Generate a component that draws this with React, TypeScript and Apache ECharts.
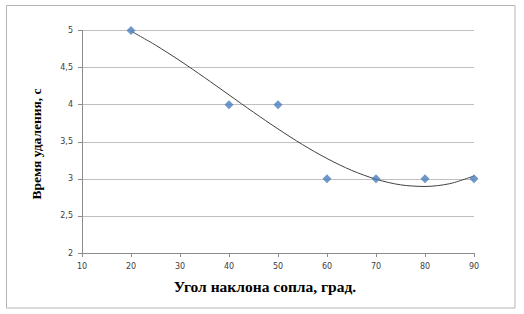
import React, { useEffect, useRef } from "react";
import * as echarts from "echarts";

const angles = [20, 40, 50, 60, 70, 80, 90];
const times = [5, 4, 4, 3, 3, 3, 3];
const trendX = [20, 25, 30, 35, 40, 45, 50, 55, 60, 65, 70, 75, 80, 85, 90];
const trendY = [4.992, 4.803, 4.592, 4.366, 4.132, 3.898, 3.673, 3.462, 3.274, 3.115, 2.995, 2.919, 2.897, 2.934, 3.039];
const xTitle = "Угол наклона сопла, град.";
const yTitle = "Время удаления, с";

export default function App() {
  const ref = useRef<HTMLDivElement>(null);
  useEffect(() => {
    const chart = echarts.init(ref.current!, null, { renderer: "svg" });
    chart.setOption({
      animation: false,
      backgroundColor: "#ffffff",
      grid: { left: 82, right: 50, top: 30.5, bottom: 61 },
      xAxis: {
        type: "value",
        min: 10,
        max: 90,
        interval: 10,
        axisLine: { show: true, lineStyle: { color: "#8c8c8c" } },
        axisTick: { show: true, length: 4, lineStyle: { color: "#8c8c8c" } },
        splitLine: { show: false },
        axisLabel: { color: "#404040", fontFamily: "DejaVu Sans", fontSize: 8, margin: 9 },
      },
      yAxis: {
        type: "value",
        min: 2,
        max: 5,
        interval: 0.5,
        axisLine: { show: true, lineStyle: { color: "#8c8c8c" } },
        axisTick: { show: true, length: 4, lineStyle: { color: "#8c8c8c" } },
        splitLine: { show: true, lineStyle: { color: "#c0c0c0", width: 1 } },
        axisLabel: {
          color: "#404040",
          fontFamily: "DejaVu Sans",
          fontSize: 8,
          margin: 9,
          formatter: (v: number) => String(v).replace(".", ","),
        },
      },
      series: [
        {
          type: "line",
          data: trendX.map((x, i) => [x, trendY[i]]),
          smooth: 0.3,
          showSymbol: false,
          lineStyle: { color: "#404040", width: 1 },
          z: 2,
        },
        {
          type: "scatter",
          data: angles.map((x, i) => [x, times[i]]),
          symbol: "diamond",
          symbolSize: 9,
          itemStyle: { color: "#4a7ebb" },
          z: 3,
        },
      ],
      graphic: [
        {
          type: "rect",
          shape: { x: 6.5, y: 5.5, width: 508.5, height: 302.5 },
          style: { fill: "none", stroke: "#b4b4b4", lineWidth: 1 },
          silent: true,
        },
        {
          type: "text",
          x: 265,
          y: 286,
          style: {
            text: xTitle,
            font: "bold 15.5px 'Liberation Serif'",
            fill: "#000000",
            align: "center",
            verticalAlign: "middle",
          },
        },
        {
          type: "text",
          x: 36,
          y: 144,
          rotation: Math.PI / 2,
          style: {
            text: yTitle,
            font: "bold 13.5px 'Liberation Serif'",
            fill: "#000000",
            align: "center",
            verticalAlign: "middle",
          },
        },
      ],
    });
    return () => chart.dispose();
  }, []);
  return (
    <div
      ref={ref}
      style={{ position: "fixed", left: 0, top: 0, width: 524, height: 314 }}
    />
  );
}
